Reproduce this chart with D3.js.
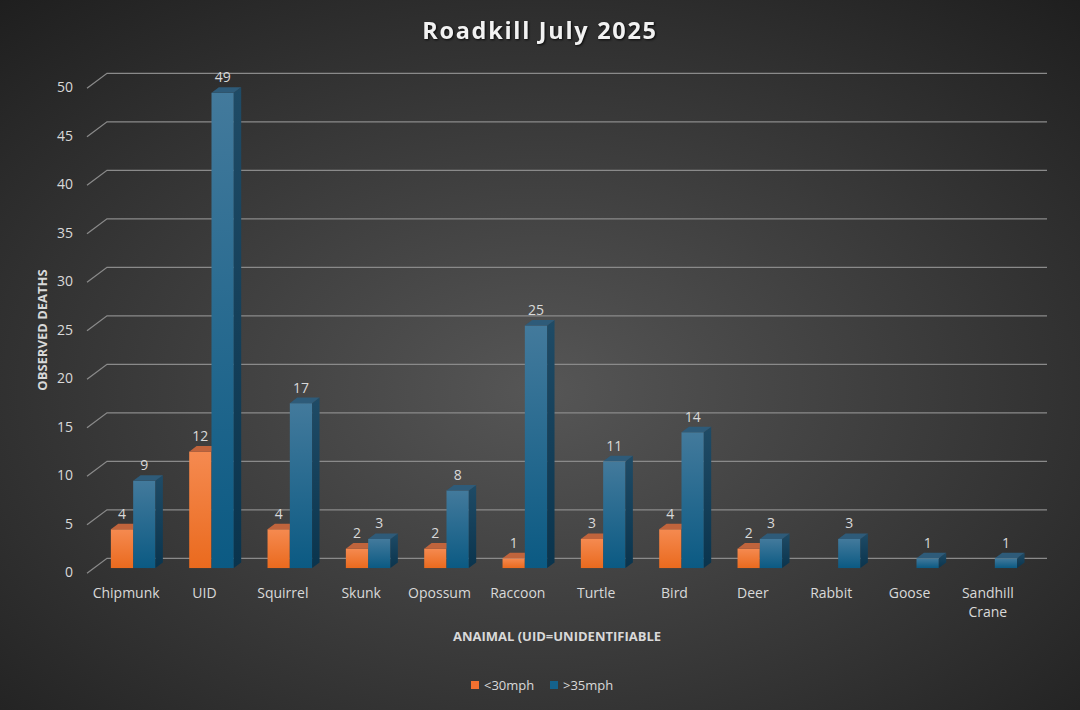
<!DOCTYPE html>
<html>
<head>
<meta charset="utf-8">
<script src="https://cdn.jsdelivr.net/npm/d3@7"></script>
<style>
  body { margin: 0; background: #2a2a2a; }
  svg { display: block; font-family: "Open Sans", "Noto Sans", sans-serif; }
</style>
</head>
<body>
<div id="chart"></div>
<script>
// chart data
const animals = ["Chipmunk", "UID", "Squirrel", "Skunk", "Opossum", "Raccoon", "Turtle", "Bird", "Deer", "Rabbit", "Goose", "Sandhill Crane"];
const slowValues = [4, 12, 4, 2, 2, 1, 3, 4, 2, 0, 0, 0];
const fastValues = [9, 49, 17, 3, 8, 25, 11, 14, 3, 3, 1, 1];
const seriesNames = ["<30mph", ">35mph"];
const yTicks = [0, 5, 10, 15, 20, 25, 30, 35, 40, 45, 50];

const width = 1080, height = 710;
// floor depth of the 3d box (front edge -> back wall)
const depthX = 20, depthY = -15;
// bars sit between these fractions of the depth
const barFront = 0.35, barBack = 0.72;

const svg = d3.select("#chart")
  .append("svg")
  .attr("width", width)
  .attr("height", height);

const defs = svg.append("defs");

// background radial gradient
const bg = defs.append("radialGradient").attr("id", "bg")
  .attr("cx", "50%").attr("cy", "55%").attr("r", "75%");
bg.append("stop").attr("offset", "0%").attr("stop-color", "#565656");
bg.append("stop").attr("offset", "100%").attr("stop-color", "#1e1e1e");

const linGrad = (id, top, bottom) => {
  const g = defs.append("linearGradient").attr("id", id)
    .attr("x1", 0).attr("y1", 0).attr("x2", 0).attr("y2", 1);
  g.append("stop").attr("offset", "0%").attr("stop-color", top);
  g.append("stop").attr("offset", "100%").attr("stop-color", bottom);
};
linGrad("orangeFront", "#f58a50", "#ea6a1e");
linGrad("orangeSide", "#b0501c", "#8e3d12");
linGrad("blueFront", "#437a9c", "#0b5a83");
linGrad("blueSide", "#1f4b66", "#0a344d");

const palette = [
  { front: "url(#orangeFront)", side: "url(#orangeSide)", top: "#c0643c", legend: "#f07030" },
  { front: "url(#blueFront)", side: "url(#blueSide)", top: "#2e5b79", legend: "#15628c" }
];

svg.append("rect")
  .attr("width", width)
  .attr("height", height)
  .attr("fill", "url(#bg)");

// scales on the front plane
const x = d3.scaleBand()
  .domain(animals)
  .range([87, 1027]);

const y = d3.scaleLinear()
  .domain([0, 50])
  .range([573.3, 88.3]);

const xInner = d3.scaleBand()
  .domain(seriesNames)
  .range([-22.3, 22.3]);

// gridlines: diagonal on the side wall + horizontal on the back wall
const grid = svg.append("g").attr("stroke", "#8a8a8a").attr("stroke-width", 1.3).attr("fill", "none");
grid.selectAll("path")
  .data(yTicks)
  .join("path")
  .attr("d", d => {
    const x0 = x.range()[0], yf = y(d);
    return `M${x0},${yf} L${x0 + depthX},${yf + depthY} L${x.range()[1] + depthX},${yf + depthY}`;
  });

// y axis tick labels
svg.append("g")
  .selectAll("text")
  .data(yTicks)
  .join("text")
  .attr("x", 73)
  .attr("y", d => y(d) - 1)
  .attr("dy", "0.35em")
  .attr("text-anchor", "end")
  .attr("fill", "#d9d9d9")
  .attr("font-size", 14)
  .text(d => d);

// bars
const series = [slowValues, fastValues];
const bars = [];
animals.forEach((a, i) => {
  series.forEach((vals, s) => {
    if (vals[i] > 0) bars.push({ animal: a, series: s, value: vals[i] });
  });
});

const fx = barFront * depthX, fy = barFront * depthY;
const bdx = (barBack - barFront) * depthX, bdy = (barBack - barFront) * depthY;

const barG = svg.append("g")
  .selectAll("g")
  .data(bars)
  .join("g");

barG.each(function (d) {
  const g = d3.select(this);
  const c = palette[d.series];
  const x0 = x(d.animal) + x.bandwidth() / 2 + xInner(seriesNames[d.series]) + fx;
  const w = xInner.bandwidth();
  const yb = y(0) + fy;
  const yt = y(d.value) + fy;
  // front face
  g.append("rect")
    .attr("x", x0).attr("y", yt)
    .attr("width", w).attr("height", yb - yt)
    .attr("fill", c.front);
  // right side
  g.append("path")
    .attr("d", `M${x0 + w},${yt} L${x0 + w + bdx},${yt + bdy} L${x0 + w + bdx},${yb + bdy} L${x0 + w},${yb} Z`)
    .attr("fill", c.side);
  // top face
  g.append("path")
    .attr("d", `M${x0},${yt} L${x0 + bdx},${yt + bdy} L${x0 + w + bdx},${yt + bdy} L${x0 + w},${yt} Z`)
    .attr("fill", c.top);
  // value label
  g.append("text")
    .attr("x", x0 + w / 2)
    .attr("y", yt + bdy - 5)
    .attr("text-anchor", "middle")
    .attr("fill", "#d9d9d9")
    .attr("font-size", 14)
    .text(d.value);
});

// category labels, wrapped when wider than the band
const catLabels = svg.append("g")
  .selectAll("text")
  .data(animals)
  .join("text")
  .attr("x", d => x(d) + x.bandwidth() / 2)
  .attr("y", 598)
  .attr("text-anchor", "middle")
  .attr("fill", "#d9d9d9")
  .attr("font-size", 14)
  .text(d => d);

catLabels.each(function (d) {
  const t = d3.select(this);
  if (this.getComputedTextLength() > x.bandwidth() - 4 && d.includes(" ")) {
    const words = d.split(" ");
    const cx = t.attr("x");
    t.text(null);
    words.forEach((w, k) => {
      t.append("tspan").attr("x", cx).attr("dy", k === 0 ? 0 : 19).text(w);
    });
  }
});

// title
svg.append("text")
  .attr("x", 540)
  .attr("y", 39)
  .attr("text-anchor", "middle")
  .attr("fill", "#f2f2f2")
  .attr("font-size", 23.5)
  .attr("font-weight", "bold")
  .attr("letter-spacing", 1.7)
  .style("filter", "drop-shadow(1px 1px 1px rgba(0,0,0,0.8))")
  .text("Roadkill July 2025");

// axis titles
svg.append("text")
  .attr("transform", "translate(47,330) rotate(-90)")
  .attr("text-anchor", "middle")
  .attr("fill", "#d9d9d9")
  .attr("font-size", 13)
  .attr("font-weight", "bold")
  .text("OBSERVED DEATHS");

svg.append("text")
  .attr("x", 557)
  .attr("y", 641)
  .attr("text-anchor", "middle")
  .attr("fill", "#d9d9d9")
  .attr("font-size", 13)
  .attr("font-weight", "bold")
  .text("ANAIMAL (UID=UNIDENTIFIABLE");

// legend
const legend = svg.append("g")
  .selectAll("g")
  .data(seriesNames)
  .join("g")
  .attr("transform", (d, i) => `translate(${471 + i * 79},681)`);

legend.append("rect")
  .attr("width", 8).attr("height", 8)
  .attr("fill", (d, i) => palette[i].legend);

legend.append("text")
  .attr("x", 13)
  .attr("y", 4)
  .attr("dy", "0.35em")
  .attr("fill", "#d9d9d9")
  .attr("font-size", 13)
  .text(d => d);
</script>
</body>
</html>
